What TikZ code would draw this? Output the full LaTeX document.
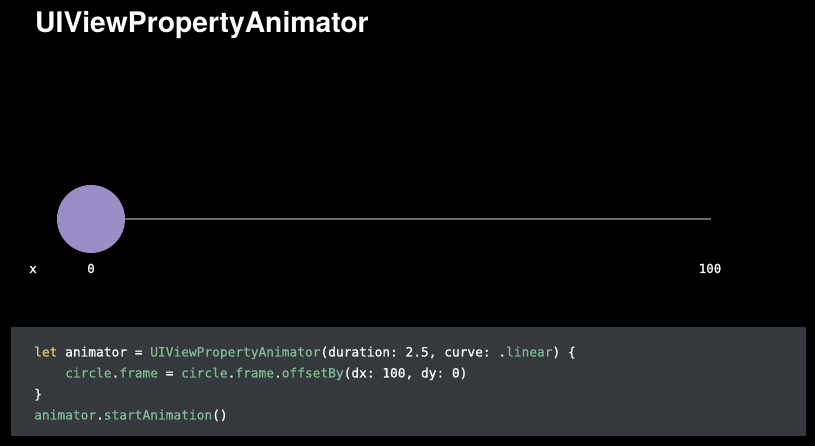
\documentclass[tikz,border=0pt]{standalone}
\usepackage{fontspec}
\setmainfont{TeX Gyre Heros}
\newfontfamily\codefont[FakeBold=0.6]{DejaVu Sans Mono}
\newfontfamily\labelfont[FakeBold=1.2]{DejaVu Sans Mono}
\definecolor{ballcol}{HTML}{9B8DC6}
\definecolor{trackcol}{HTML}{6A6A6A}
\definecolor{codebg}{HTML}{35383D}
\definecolor{kw}{HTML}{EBC56B}
\definecolor{ident}{HTML}{80BC8F}
\definecolor{plain}{HTML}{FFFFFF}
\newcommand{\kw}[1]{\textcolor{kw}{#1}}
\newcommand{\gr}[1]{\textcolor{ident}{#1}}
\tikzset{
  titlestyle/.style={anchor=base west, inner sep=0, text=white, font=\fontsize{28.3}{34}\selectfont\bfseries},
  ball/.style={circle, fill=ballcol, minimum size=68pt, inner sep=0},
  track/.style={draw=trackcol, line width=1.6pt},
  axislabel/.style={anchor=base, inner sep=0, text=white, font=\labelfont\fontsize{12.5}{14}\selectfont},
  codebox/.style={fill=codebg, minimum width=795pt, minimum height=109pt, anchor=north west, inner sep=0},
  codeline/.style={anchor=base west, inner sep=0, text=plain, font=\codefont\fontsize{12.85}{15}\selectfont\frenchspacing}
}
\begin{document}
\begin{tikzpicture}[x=1pt,y=1pt]
\fill[black] (0,0) rectangle (815,446);
\useasboundingbox (0,0) rectangle (815,446);
\node[titlestyle] (title) at (35,413) {UIViewPropertyAnimator};
\node[ball] (ball) at (91,227) {};
\coordinate (trackend) at (711,227);
\draw[track] (ball.east) -- (trackend);
\node[axislabel] (lx) at (33,173) {x};
\node[axislabel] (l0) at (91,173) {0};
\node[axislabel] (l100) at (710,173) {100};
\node[codebox] (box) at (11,119) {};
\node[codeline] (c1) at (34,89.5) {\kw{let} animator = \gr{UIViewPropertyAnimator}(duration: 2.5, curve: .\gr{linear}) \{};
\node[codeline] (c2) at (34,68.5) {\phantom{xxxx}\gr{circle}.\gr{frame} = \gr{circle}.\gr{frame}.\gr{offsetBy}(dx: 100, dy: 0)};
\node[codeline] (c3) at (34,47.5) {\}};
\node[codeline] (c4) at (34,26.5) {\gr{animator}.\gr{startAnimation}()};
\end{tikzpicture}
\end{document}
